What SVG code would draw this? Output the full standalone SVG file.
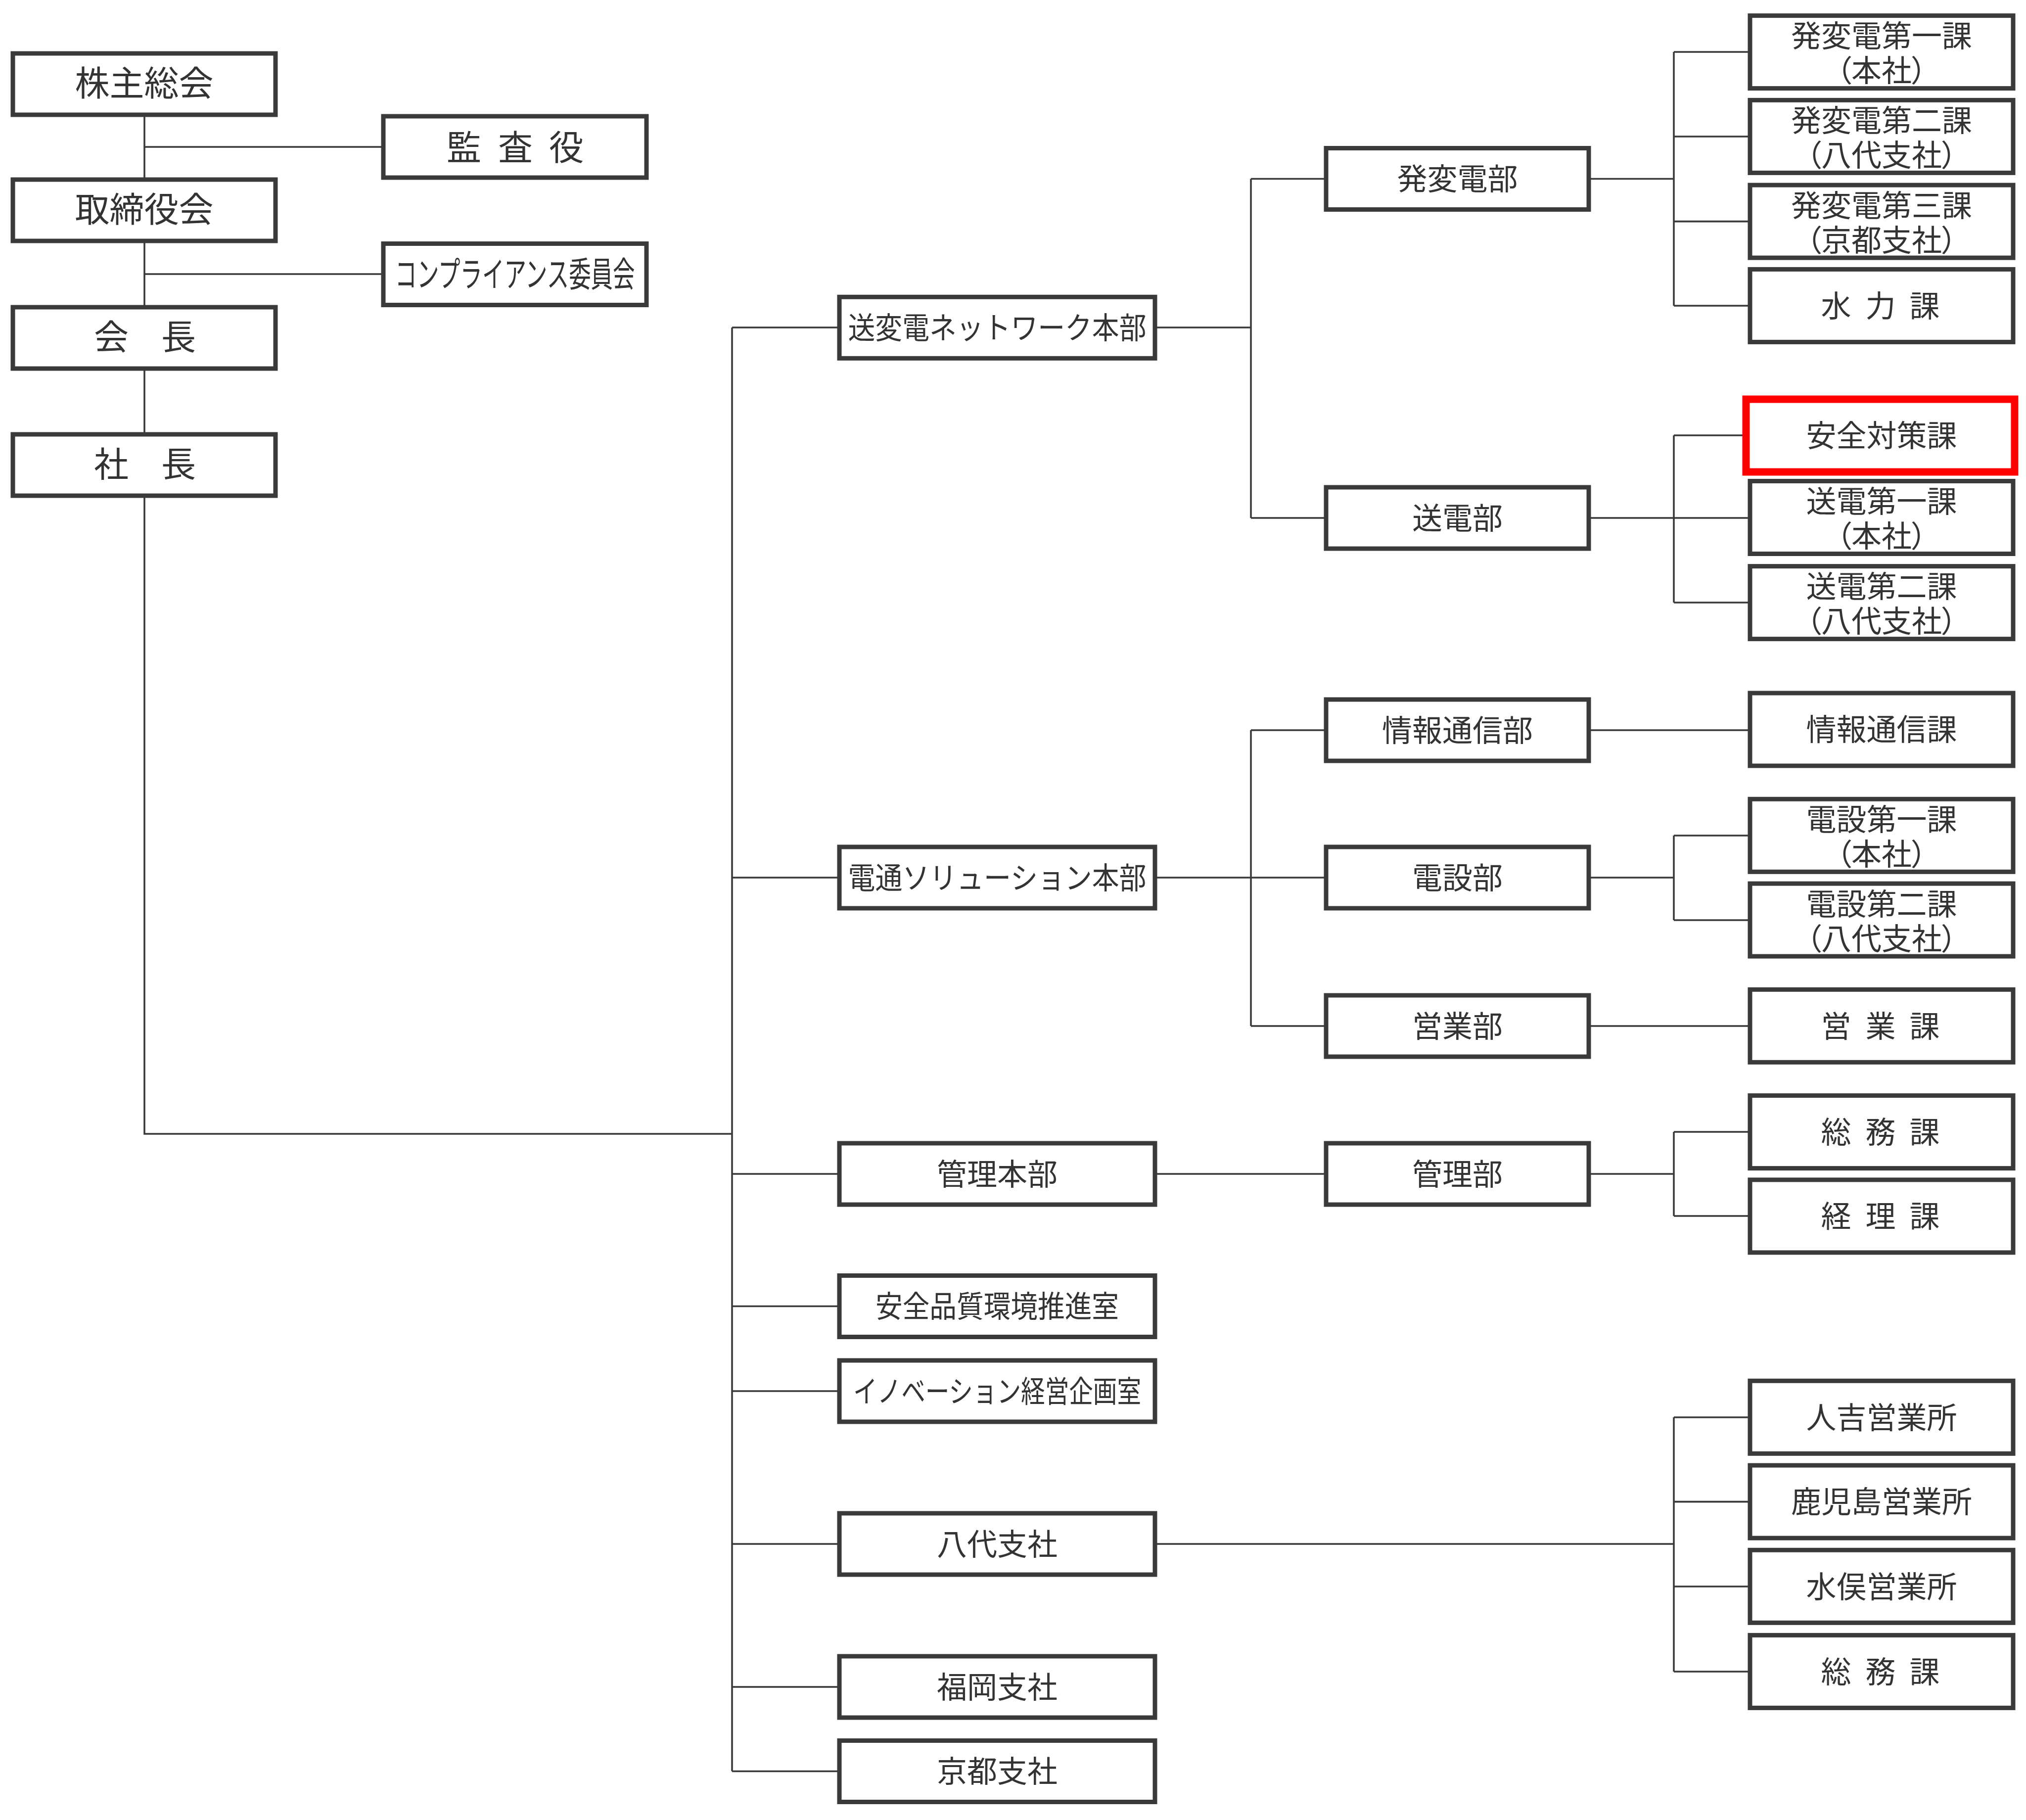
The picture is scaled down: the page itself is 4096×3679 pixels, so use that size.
<svg xmlns="http://www.w3.org/2000/svg" width="4096" height="3679" viewBox="0 0 4096 3679">
<style>
.bg{fill:#ffffff}
.box{fill:#ffffff;stroke:#3a3a3a;stroke-width:9}
.red{fill:#ffffff;stroke:#ff0000;stroke-width:15}
.ln{fill:none;stroke:#3a3a3a;stroke-width:3.6}
.t{font-family:"Noto Sans CJK JP","Noto Sans CJK SC",sans-serif;font-size:61px;fill:#333333;text-anchor:middle;dominant-baseline:central}
.big{font-size:70px}
.p{font-feature-settings:"palt"}
</style>
<rect class="bg" x="0" y="0" width="4096" height="3679"/>
<g id="connectors">
<path class="ln" d="M292 232 V2292 H1480"/>
<path class="ln" d="M292 297 H775"/>
<path class="ln" d="M292 554 H775"/>
<path class="ln" d="M1480 662 V3580.5"/>
<path class="ln" d="M1480 662 H1697 M1480 1774 H1697 M1480 2373 H1697 M1480 2640.5 H1697 M1480 2812 H1697 M1480 3121 H1697 M1480 3410 H1697 M1480 3580.5 H1697"/>
<path class="ln" d="M2335 662 H2529 M2529 361.5 V1047 M2529 361.5 H2681 M2529 1047 H2681"/>
<path class="ln" d="M3212 361.5 H3384 M3384 105 V618 M3384 105 H3538 M3384 276 H3538 M3384 447.6 H3538 M3384 618 H3538"/>
<path class="ln" d="M3212 1047 H3384 M3384 880 V1218 M3384 880 H3530 M3384 1047 H3538 M3384 1218 H3538"/>
<path class="ln" d="M2335 1774 H2529 M2529 1476 V2074 M2529 1476 H2681 M2529 1774 H2681 M2529 2074 H2681"/>
<path class="ln" d="M3212 1476 H3538"/>
<path class="ln" d="M3212 1774 H3384 M3384 1689 V1860 M3384 1689 H3538 M3384 1860 H3538"/>
<path class="ln" d="M3212 2074 H3538"/>
<path class="ln" d="M2335 2373 H2681"/>
<path class="ln" d="M3212 2373 H3384 M3384 2288 V2458 M3384 2288 H3538 M3384 2458 H3538"/>
<path class="ln" d="M2335 3121 H3384 M3384 2865 V3379 M3384 2865 H3538 M3384 3035.6 H3538 M3384 3207 H3538 M3384 3379 H3538"/>
</g>
<g id="n-kabunushi"><rect class="box" x="26" y="108" width="531" height="124"/><text class="t big" x="291.5" y="163">株主総会</text></g>
<g id="n-torishimari"><rect class="box" x="26" y="363" width="531" height="124"/><text class="t big" x="291.5" y="418">取締役会</text></g>
<g id="n-kaicho"><rect class="box" x="26" y="621" width="531" height="124"/><text class="t big" x="225 293 361" y="676">会　長</text></g>
<g id="n-shacho"><rect class="box" x="26" y="878" width="531" height="124"/><text class="t big" x="225 293 361" y="933">社　長</text></g>
<g id="n-kansa"><rect class="box" x="775" y="235" width="532" height="124"/><text class="t big" x="938 990 1042 1093 1145" y="293">監 査 役</text></g>
<g id="n-compliance"><rect class="box" x="775" y="492.5" width="532" height="124"/><text class="t big" x="1041" y="549" textLength="485" lengthAdjust="spacingAndGlyphs">コンプライアンス委員会</text></g>

<g id="n-sohenden-honbu"><rect class="box" x="1697" y="600.3" width="638" height="124"/><text class="t" x="2016" y="658" textLength="603" lengthAdjust="spacingAndGlyphs">送変電ネットワーク本部</text></g>
<g id="n-dentsu-honbu"><rect class="box" x="1697" y="1712" width="638" height="124"/><text class="t" x="2016" y="1770" textLength="603" lengthAdjust="spacingAndGlyphs">電通ソリューション本部</text></g>
<g id="n-kanri-honbu"><rect class="box" x="1697" y="2311" width="638" height="124"/><text class="t" x="2016" y="2369">管理本部</text></g>
<g id="n-anzen-hinshitsu"><rect class="box" x="1697" y="2578.5" width="638" height="124"/><text class="t" x="2016" y="2636" textLength="492" lengthAdjust="spacingAndGlyphs">安全品質環境推進室</text></g>
<g id="n-innovation"><rect class="box" x="1697" y="2750" width="638" height="124"/><text class="t" x="2016" y="2808" textLength="582" lengthAdjust="spacingAndGlyphs">イノベーション経営企画室</text></g>
<g id="n-yatsushiro"><rect class="box" x="1697" y="3059" width="638" height="124"/><text class="t" x="2016" y="3117">八代支社</text></g>
<g id="n-fukuoka"><rect class="box" x="1697" y="3348" width="638" height="124"/><text class="t" x="2016" y="3406">福岡支社</text></g>
<g id="n-kyoto"><rect class="box" x="1697" y="3518.5" width="638" height="124"/><text class="t" x="2016" y="3576">京都支社</text></g>

<g id="n-hatsuhenden-bu"><rect class="box" x="2681" y="299.5" width="531" height="124"/><text class="t" x="2946.5" y="357.5">発変電部</text></g>
<g id="n-soden-bu"><rect class="box" x="2681" y="985" width="531" height="124"/><text class="t" x="2946.5" y="1043">送電部</text></g>
<g id="n-joho-bu"><rect class="box" x="2681" y="1414" width="531" height="124"/><text class="t" x="2946.5" y="1472">情報通信部</text></g>
<g id="n-densetsu-bu"><rect class="box" x="2681" y="1712" width="531" height="124"/><text class="t" x="2946.5" y="1770">電設部</text></g>
<g id="n-eigyo-bu"><rect class="box" x="2681" y="2012" width="531" height="124"/><text class="t" x="2946.5" y="2070">営業部</text></g>
<g id="n-kanri-bu"><rect class="box" x="2681" y="2311" width="531" height="124"/><text class="t" x="2946.5" y="2369">管理部</text></g>

<g id="n-hh1"><rect class="box" x="3538" y="31.6" width="532" height="147"/><text class="t" x="3804" y="68">発変電第一課</text><text class="t p" x="3804" y="138">（本社）</text></g>
<g id="n-hh2"><rect class="box" x="3538" y="202.4" width="532" height="147"/><text class="t" x="3804" y="239">発変電第二課</text><text class="t p" x="3804" y="309">（八代支社）</text></g>
<g id="n-hh3"><rect class="box" x="3538" y="374.1" width="532" height="147"/><text class="t" x="3804" y="411">発変電第三課</text><text class="t p" x="3804" y="481">（京都支社）</text></g>
<g id="n-suiryoku"><rect class="box" x="3538" y="544.4" width="532" height="147"/><text class="t" x="3712 3757 3802 3846 3891" y="614">水 力 課</text></g>
<g id="n-anzen-taisaku"><rect class="red" x="3530" y="807" width="543" height="147"/><text class="t" x="3804" y="876">安全対策課</text></g>
<g id="n-soden1"><rect class="box" x="3538" y="972.5" width="532" height="147"/><text class="t" x="3804" y="1009">送電第一課</text><text class="t p" x="3804" y="1079">（本社）</text></g>
<g id="n-soden2"><rect class="box" x="3538" y="1144.6" width="532" height="147"/><text class="t" x="3804" y="1181">送電第二課</text><text class="t p" x="3804" y="1251">（八代支社）</text></g>
<g id="n-joho-ka"><rect class="box" x="3538" y="1401" width="532" height="147"/><text class="t" x="3804" y="1470.5">情報通信課</text></g>
<g id="n-densetsu1"><rect class="box" x="3538" y="1615.3" width="532" height="147"/><text class="t" x="3804" y="1652">電設第一課</text><text class="t p" x="3804" y="1722">（本社）</text></g>
<g id="n-densetsu2"><rect class="box" x="3538" y="1786.1" width="532" height="147"/><text class="t" x="3804" y="1823">電設第二課</text><text class="t p" x="3804" y="1893">（八代支社）</text></g>
<g id="n-eigyo-ka"><rect class="box" x="3538" y="2000.3" width="532" height="147"/><text class="t" x="3712 3757 3802 3846 3891" y="2070">営 業 課</text></g>
<g id="n-somu1"><rect class="box" x="3538" y="2214.6" width="532" height="147"/><text class="t" x="3712 3757 3802 3846 3891" y="2284">総 務 課</text></g>
<g id="n-keiri"><rect class="box" x="3538" y="2384.9" width="532" height="147"/><text class="t" x="3712 3757 3802 3846 3891" y="2454">経 理 課</text></g>
<g id="n-hitoyoshi"><rect class="box" x="3538" y="2791.3" width="532" height="147"/><text class="t" x="3804" y="2861">人吉営業所</text></g>
<g id="n-kagoshima"><rect class="box" x="3538" y="2962.1" width="532" height="147"/><text class="t" x="3804" y="3031.6">鹿児島営業所</text></g>
<g id="n-minamata"><rect class="box" x="3538" y="3133.3" width="532" height="147"/><text class="t" x="3804" y="3203">水俣営業所</text></g>
<g id="n-somu2"><rect class="box" x="3538" y="3305.4" width="532" height="147"/><text class="t" x="3712 3757 3802 3846 3891" y="3375">総 務 課</text></g>
</svg>
